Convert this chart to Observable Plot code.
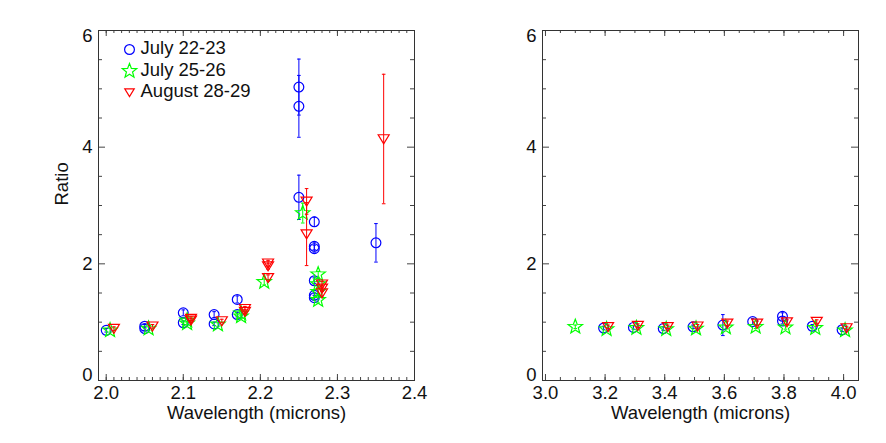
<!DOCTYPE html>
<html><head><meta charset="utf-8">
<script src="https://cdn.jsdelivr.net/npm/d3@7"></script>
<script src="https://cdn.jsdelivr.net/npm/@observablehq/plot@0.6"></script>
<style>
body{margin:0;background:#fff;}
#wrap{display:flex;width:886px;height:443px;}
#wrap svg{display:block;}
</style></head><body><div id="wrap"></div>
<script>
// ---------- series ----------
const seriesNames  = ["July 22-23", "July 25-26", "August 28-29"];
const seriesColors = ["#0000ff", "#00ff00", "#ff0000"];

// ---------- left panel (2.0 - 2.4 microns) ----------
const leftA_wl    = [2.00,2.05,2.05,2.10,2.10,2.14,2.14,2.17,2.17,2.25,2.25,2.25,2.27,2.27,2.27,2.27,2.27,2.27,2.35];
const leftA_ratio = [0.86,0.93,0.89,1.16,0.99,1.13,0.97,1.39,1.13,5.03,4.70,3.14,2.72,2.30,2.26,1.71,1.46,1.42,2.36];
const leftA_err   = [0.03,0.03,0.03,0.05,0.03,0.05,0.03,0.06,0.04,0.48,0.53,0.38,0.08,0.06,0.06,0.05,0.04,0.04,0.33];

const leftB_wl    = [2.005,2.055,2.105,2.105,2.145,2.175,2.175,2.205,2.255,2.275,2.275,2.275,2.275];
const leftB_ratio = [0.86,0.89,1.03,0.98,0.96,1.15,1.10,1.69,2.87,1.82,1.65,1.52,1.38];
const leftB_err   = [0.03,0.03,0.03,0.03,0.03,0.04,0.04,0.05,0.17,0.05,0.05,0.05,0.05];

const leftC_wl    = [2.01,2.06,2.11,2.11,2.15,2.18,2.18,2.21,2.21,2.21,2.26,2.26,2.28,2.28,2.28,2.36];
const leftC_ratio = [0.89,0.93,1.06,1.03,1.02,1.23,1.18,2.01,1.96,1.76,3.07,2.51,1.65,1.58,1.50,4.14];
const leftC_err   = [0.03,0.03,0.03,0.03,0.03,0.04,0.04,0.05,0.05,0.05,0.22,0.54,0.05,0.05,0.05,1.11];

// ---------- right panel (3.0 - 4.0 microns) ----------
const rightA_wl    = [3.195,3.295,3.395,3.495,3.595,3.695,3.795,3.795,3.895,3.995];
const rightA_ratio = [0.90,0.91,0.89,0.92,0.95,1.01,1.10,1.02,0.93,0.87];
const rightA_err   = [0.03,0.03,0.03,0.03,0.18,0.05,0.06,0.05,0.03,0.03];

const rightB_wl    = [3.10,3.205,3.305,3.405,3.505,3.605,3.705,3.805,3.905,4.005];
const rightB_ratio = [0.92,0.88,0.90,0.88,0.89,0.91,0.92,0.91,0.90,0.86];
const rightB_err   = [0.03,0.03,0.03,0.03,0.03,0.03,0.03,0.03,0.03,0.03];

const rightC_wl    = [3.21,3.31,3.41,3.51,3.61,3.71,3.81,3.91,4.01];
const rightC_ratio = [0.92,0.94,0.92,0.93,0.98,0.98,1.00,1.01,0.90];
const rightC_err   = [0.03,0.03,0.03,0.03,0.04,0.04,0.04,0.03,0.03];

// ---------- axes ----------
const leftXDomain  = [1.99, 2.4];
const rightXDomain = [2.99, 4.05];
const yDomain      = [0, 6];
const leftXTicks   = [2.0, 2.1, 2.2, 2.3, 2.4];
const leftXMinor   = d3.range(0, 41).map(i => +(2.0 + i * 0.01).toFixed(2));
const rightXTicks  = [3.0, 3.2, 3.4, 3.6, 3.8, 4.0];
const rightXMinor  = d3.range(0, 21).map(i => +(3.0 + i * 0.05).toFixed(2));
const yTicks       = [0, 2, 4, 6];
const yMinor       = [0.5, 1, 1.5, 2.5, 3, 3.5, 4.5, 5, 5.5];
const xTitle = "Wavelength (microns)";
const yTitle = "Ratio";

// ---------- symbols ----------
const circleSym = {draw(ctx, size) {const R = Math.sqrt(size / Math.PI); ctx.moveTo(R, 0); ctx.arc(0, 0, R, 0, 2 * Math.PI);}};
const starSym = {draw(ctx, size) {
  const R = Math.sqrt(size / Math.PI), r = R * 0.42;
  for (let i = 0; i < 10; i++) {
    const a = -Math.PI / 2 + i * Math.PI / 5, rr = i % 2 ? r : R;
    const x = rr * Math.cos(a), y = rr * Math.sin(a);
    if (i) ctx.lineTo(x, y); else ctx.moveTo(x, y);
  }
  ctx.closePath();
}};
const triDownSym = {draw(ctx, size) {
  const R = Math.sqrt(size / Math.PI);
  ctx.moveTo(-R * 1.1, -R * 0.85); ctx.lineTo(R * 1.1, -R * 0.85); ctx.lineTo(0, R * 0.95); ctx.closePath();
}};
const capSym = {draw(ctx, size) {const R = Math.sqrt(size / Math.PI); ctx.moveTo(-R, 0); ctx.lineTo(R, 0);}};
const symbols = [circleSym, starSym, triDownSym];
const symbolR = [4.9, 7.6, 5.0];

function rows(wl, ratio, err, s) {
  return wl.map((w, i) => ({wl: w, ratio: ratio[i], err: err[i], s}));
}

const FONT = "'Liberation Sans', Arial, Helvetica, sans-serif";
const FS = 18.5;
const W = 443, H = 443, MT = 30, MB = 63;

function panel({series, xDomain, xTicks, xMinor, marginLeft, marginRight, showYTitle, showLegend}) {
  const fw = W - marginLeft - marginRight, fh = H - MT - MB;
  const tickColor = "#444";
  const marks = [];
  // ticks (inward, on all four sides)
  marks.push(
    Plot.tickX(xMinor, {x: d => d, insetTop: fh - 3, stroke: tickColor}),
    Plot.tickX(xMinor, {x: d => d, insetBottom: fh - 3, stroke: tickColor}),
    Plot.tickX(xTicks, {x: d => d, insetTop: fh - 6, stroke: tickColor}),
    Plot.tickX(xTicks, {x: d => d, insetBottom: fh - 6, stroke: tickColor}),
    Plot.tickY(yMinor, {y: d => d, insetRight: fw - 4, stroke: tickColor}),
    Plot.tickY(yMinor, {y: d => d, insetLeft: fw - 4, stroke: tickColor}),
    Plot.tickY(yTicks, {y: d => d, insetRight: fw - 7, stroke: tickColor}),
    Plot.tickY(yTicks, {y: d => d, insetLeft: fw - 7, stroke: tickColor}),
    Plot.frame({stroke: "#333", strokeWidth: 1})
  );
  // tick labels
  marks.push(
    Plot.text(xTicks, {x: d => d, frameAnchor: "bottom", dy: 18, text: d => d3.format(".1f")(d), fontSize: FS, fill: "#111"}),
    Plot.text(yTicks.filter(d => d > 0 && d < 6), {y: d => d, frameAnchor: "left", dx: -6, textAnchor: "end", text: d => String(d), fontSize: FS, fill: "#111"}),
    Plot.text(yTicks.filter(d => d === 0), {y: d => d, frameAnchor: "left", dx: -6, dy: -5, textAnchor: "end", text: d => String(d), fontSize: FS, fill: "#111"}),
    Plot.text(yTicks.filter(d => d === 6), {y: d => d, frameAnchor: "left", dx: -6, dy: 6, textAnchor: "end", text: d => String(d), fontSize: FS, fill: "#111"}),
    Plot.text([xTitle], {frameAnchor: "bottom", dy: 38, text: d => d, fontSize: FS, fill: "#111"})
  );
  if (showYTitle) marks.push(Plot.text([yTitle], {frameAnchor: "left", dx: -36, rotate: -90, text: d => d, fontSize: FS, fill: "#111"}));
  // data
  series.forEach(data => {
    const s = data[0].s, c = seriesColors[s];
    marks.push(
      Plot.ruleX(data, {x: "wl", y1: d => d.ratio - d.err, y2: d => d.ratio + d.err, stroke: c, strokeWidth: 1}),
      Plot.dot(data, {x: "wl", y: d => d.ratio - d.err, symbol: capSym, r: 1.8, stroke: c, fill: "none", strokeWidth: 1}),
      Plot.dot(data, {x: "wl", y: d => d.ratio + d.err, symbol: capSym, r: 1.8, stroke: c, fill: "none", strokeWidth: 1}),
      Plot.dot(data, {x: "wl", y: "ratio", symbol: symbols[s], r: symbolR[s], stroke: c, fill: "none", strokeWidth: 1.2})
    );
  });
  if (showLegend) {
    seriesNames.forEach((n, i) => {
      const dy = 19 + i * 21.5;
      marks.push(
        Plot.dot([n], {frameAnchor: "top-left", dx: 31, dy, symbol: symbols[i], r: i === 2 ? 4.3 : symbolR[i], stroke: seriesColors[i], fill: "none", strokeWidth: 1.2}),
        Plot.text([n], {frameAnchor: "top-left", dx: 42, dy: dy - 1, text: d => d, textAnchor: "start", lineAnchor: "middle", fontSize: FS, fill: "#111"})
      );
    });
  }
  return Plot.plot({
    width: W, height: H,
    marginLeft, marginRight, marginTop: MT, marginBottom: MB,
    x: {domain: xDomain, axis: null},
    y: {domain: yDomain, axis: null},
    style: {fontFamily: FONT, fontSize: FS + "px", background: "#fff", overflow: "visible"},
    marks
  });
}

const wrap = document.getElementById("wrap");
wrap.append(panel({
  series: [rows(leftA_wl, leftA_ratio, leftA_err, 0), rows(leftB_wl, leftB_ratio, leftB_err, 1), rows(leftC_wl, leftC_ratio, leftC_err, 2)],
  xDomain: leftXDomain, xTicks: leftXTicks, xMinor: leftXMinor,
  marginLeft: 98, marginRight: 29, showYTitle: true, showLegend: true
}));
wrap.append(panel({
  series: [rows(rightA_wl, rightA_ratio, rightA_err, 0), rows(rightB_wl, rightB_ratio, rightB_err, 1), rows(rightC_wl, rightC_ratio, rightC_err, 2)],
  xDomain: rightXDomain, xTicks: rightXTicks, xMinor: rightXMinor,
  marginLeft: 99, marginRight: 28, showYTitle: false, showLegend: false
}));
</script></body></html>
